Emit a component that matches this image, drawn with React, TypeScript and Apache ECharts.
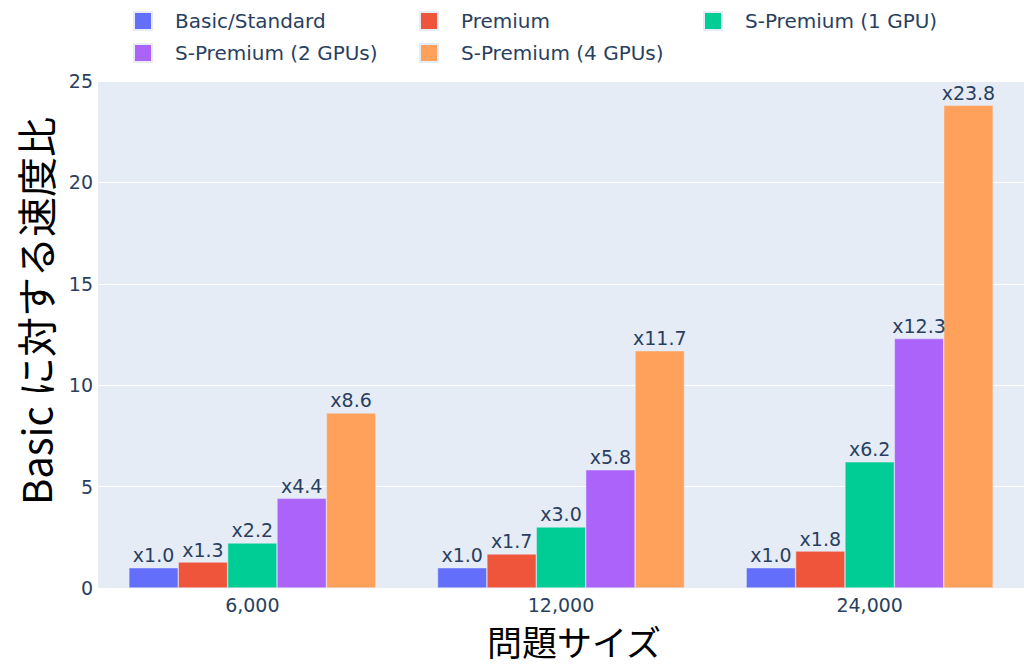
import React, { useEffect, useRef } from "react";
import * as echarts from "echarts";

const categories = ["6,000", "12,000", "24,000"];
const seriesNames = [
  "Basic/Standard",
  "Premium",
  "S-Premium (1 GPU)",
  "S-Premium (2 GPUs)",
  "S-Premium (4 GPUs)",
];
const basicValues = [1.0, 1.0, 1.0];
const premiumValues = [1.28, 1.68, 1.82];
const sPremium1Values = [2.22, 3.01, 6.22];
const sPremium2Values = [4.42, 5.83, 12.3];
const sPremium4Values = [8.63, 11.7, 23.8];
const colors = ["#636EFA", "#EF553B", "#00CC96", "#AB63FA", "#FFA15A"];
const yTitle = "Basic に対する速度比";
const xTitle = "問題サイズ";

const FONT = "'DejaVu Sans', Verdana, sans-serif";
const CJK = "'Noto Sans CJK JP', 'Noto Sans', sans-serif";
const TXT = "#2a3f5f";

export default function App() {
  const ref = useRef<HTMLDivElement>(null);
  useEffect(() => {
    if (!ref.current) return;
    const chart = echarts.init(ref.current, undefined, { renderer: "svg" });
    const allValues = [basicValues, premiumValues, sPremium1Values, sPremium2Values, sPremium4Values];
    const legendBase = {
      orient: "vertical",
      icon: "rect",
      itemWidth: 18,
      itemHeight: 18,
      itemGap: 12,
      textStyle: { fontFamily: FONT, fontSize: 20, color: TXT, lineHeight: 20, padding: [0, 0, 0, 18] },
    };
    chart.setOption({
      animation: false,
      backgroundColor: "#ffffff",
      color: colors,
      legend: [
        { ...legendBase, left: 128, top: 6, data: [seriesNames[0], seriesNames[3]] },
        { ...legendBase, left: 414, top: 6, data: [seriesNames[1], seriesNames[4]] },
        { ...legendBase, left: 698, top: 6, data: [seriesNames[2]] },
      ],
      grid: {
        left: 98,
        right: -9,
        top: 81,
        bottom: 77,
        show: true,
        backgroundColor: "#E5ECF6",
        borderWidth: 0,
      },
      xAxis: {
        type: "category",
        data: categories,
        axisLine: { show: false },
        axisTick: { show: false },
        axisLabel: { fontFamily: FONT, fontSize: 19, color: TXT, margin: 7 },
      },
      yAxis: {
        type: "value",
        min: 0,
        max: 25,
        interval: 5,
        axisLine: { show: false },
        axisTick: { show: false },
        splitLine: { lineStyle: { color: "#ffffff", width: 1 } },
        axisLabel: { fontFamily: FONT, fontSize: 19, color: TXT, margin: 5 },
      },
      graphic: [
        {
          type: "text",
          x: 35,
          y: 311,
          rotation: Math.PI / 2,
          style: {
            text: yTitle,
            fontFamily: CJK,
            fontSize: 40,
            fill: "#000000",
            textAlign: "center",
            textVerticalAlign: "middle",
          },
        },
        {
          type: "text",
          x: 574,
          y: 640,
          style: {
            text: xTitle,
            fontFamily: CJK,
            fontSize: 35,
            fill: "#000000",
            textAlign: "center",
            textVerticalAlign: "middle",
          },
        },
      ],
      series: seriesNames.map((name, i) => ({
        name,
        type: "bar",
        data: allValues[i],
        barGap: "0%",
        barCategoryGap: "20%",
        itemStyle: { color: colors[i], borderColor: "#E5ECF6", borderWidth: 0.5 },
        label: {
          show: true,
          position: "top",
          distance: 3,
          fontFamily: FONT,
          fontSize: 19,
          color: TXT,
          formatter: (p: any) => "x" + Number(p.value).toFixed(1),
        },
      })),
    });
    return () => chart.dispose();
  }, []);
  return (
    <div
      ref={ref}
      style={{ position: "fixed", left: 0, top: 0, width: 1024, height: 665 }}
    />
  );
}
